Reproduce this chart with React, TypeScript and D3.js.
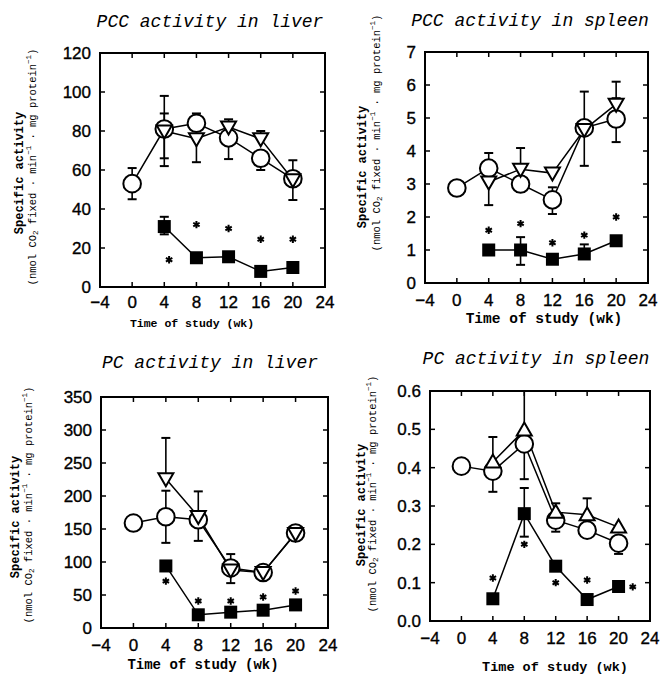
import React from "react";
import * as d3 from "d3";

const weeksAll = [0, 4, 8, 12, 16, 20];
const weeksTreated = [4, 8, 12, 16, 20];
const xTicks = [-4, 0, 4, 8, 12, 16, 20, 24];

// PCC liver
const pccLiverCircle = [53, 81, 84, 76.5, 66, 55.5];
const pccLiverCircleLo = [45, 62, null, 65.6, 60, 44.6];
const pccLiverCircleHi = [61, 98, 89, null, null, 65];
const pccLiverTri = [80, 76, 82, 76, 55];
const pccLiverTriLo = [66, 64, null, null, null];
const pccLiverTriHi = [89, null, 86, 80, null];
const pccLiverSq = [31, 15, 15.5, 8, 10];
const pccLiverSqLo = [27, null, null, null, null];
const pccLiverSqHi = [36, null, null, null, null];
const pccLiverStarX = [4.6, 8, 12, 16, 20];
const pccLiverStarY = [14, 32, 30, 24.5, 24.5];

// PCC spleen
const pccSpleenCircle = [2.88, 3.48, 3.0, 2.52, 4.7, 4.97];
const pccSpleenCircleLo = [null, null, 2.76, 2.09, 3.55, 4.27];
const pccSpleenCircleHi = [null, 3.94, null, 2.9, 5.8, 5.6];
const pccSpleenTri = [3.06, 3.45, 3.33, 4.65, 5.42];
const pccSpleenTriLo = [2.36, null, null, null, null];
const pccSpleenTriHi = [null, 4.09, null, null, 6.1];
const pccSpleenSq = [1.0, 1.0, 0.72, 0.88, 1.28];
const pccSpleenSqLo = [null, 0.55, null, null, null];
const pccSpleenSqHi = [null, 1.39, null, 1.17, null];
const pccSpleenStarX = [4, 8, 12, 16, 20];
const pccSpleenStarY = [1.6, 1.8, 1.22, 1.45, 2.0];

// PC liver
const pcLiverCircle = [159, 168.5, 164, 91, 84, 144];
const pcLiverCircleLo = [null, 129, 132, 68, null, null];
const pcLiverCircleHi = [null, 208, null, 112, null, null];
const pcLiverTri = [226, 169, 88, 84, 143];
const pcLiverTriLo = [null, null, null, null, null];
const pcLiverTriHi = [288, 207, null, null, null];
const pcLiverSq = [94, 20, 24, 27, 35];
const pcLiverSqLo = [null, null, null, null, null];
const pcLiverSqHi = [null, null, null, null, null];
const pcLiverStarX = [4, 8, 12, 16, 20];
const pcLiverStarY = [71, 41, 41, 47, 56];

// PC spleen
const pcSpleenCircle = [0.404, 0.391, 0.462, 0.263, 0.237, 0.203];
const pcSpleenCircleLo = [null, 0.337, 0.37, 0.233, null, 0.175];
const pcSpleenCircleHi = [null, null, null, null, null, null];
const pcSpleenTri = [0.415, 0.498, 0.284, 0.277, 0.245];
const pcSpleenTriLo = [null, null, null, null, null];
const pcSpleenTriHi = [0.48, 0.6, 0.307, 0.32, null];
const pcSpleenSq = [0.058, 0.28, 0.143, 0.056, 0.09];
const pcSpleenSqLo = [null, 0.22, null, null, null];
const pcSpleenSqHi = [null, 0.347, null, null, null];
const pcSpleenStarX = [4, 8, 12, 16, 21.8];
const pcSpleenStarY = [0.112, 0.2, 0.1, 0.107, 0.089];

const titles = ["PCC activity in liver", "PCC activity in spleen", "PC activity in liver", "PC activity in spleen"];
const xLabel = "Time of study (wk)";
const yLabel1 = "Specific activity";

const panels = [
  {
    x0: 100, x1: 325, y0: 53, y1: 287, yMax: 120, yStep: 20, fmt: "d",
    title: titles[0], titleX: 210, titleY: 27, xlabX: 192, xlabY: 327, xlabSize: 11.5, tickY: 308,
    yl1X: 20, yl1Y: 173, yl2X: 33, yl2Y: 167, triUp: false,
    circle: pccLiverCircle, circleLo: pccLiverCircleLo, circleHi: pccLiverCircleHi,
    tri: pccLiverTri, triLo: pccLiverTriLo, triHi: pccLiverTriHi,
    sq: pccLiverSq, sqLo: pccLiverSqLo, sqHi: pccLiverSqHi,
    starX: pccLiverStarX, starY: pccLiverStarY,
  },
  {
    x0: 425, x1: 648, y0: 52, y1: 283, yMax: 7, yStep: 1, fmt: "d",
    title: titles[1], titleX: 530, titleY: 26, xlabX: 544, xlabY: 323, xlabSize: 14.5, tickY: 306,
    yl1X: 363, yl1Y: 167, yl2X: 377, yl2Y: 133, triUp: false,
    circle: pccSpleenCircle, circleLo: pccSpleenCircleLo, circleHi: pccSpleenCircleHi,
    tri: pccSpleenTri, triLo: pccSpleenTriLo, triHi: pccSpleenTriHi,
    sq: pccSpleenSq, sqLo: pccSpleenSqLo, sqHi: pccSpleenSqHi,
    starX: pccSpleenStarX, starY: pccSpleenStarY,
  },
  {
    x0: 101, x1: 328, y0: 397, y1: 628, yMax: 350, yStep: 50, fmt: "d",
    title: titles[2], titleX: 210, titleY: 368, xlabX: 203, xlabY: 669, xlabSize: 14, tickY: 651,
    yl1X: 16, yl1Y: 517, yl2X: 29, yl2Y: 505, triUp: false,
    circle: pcLiverCircle, circleLo: pcLiverCircleLo, circleHi: pcLiverCircleHi,
    tri: pcLiverTri, triLo: pcLiverTriLo, triHi: pcLiverTriHi,
    sq: pcLiverSq, sqLo: pcLiverSqLo, sqHi: pcLiverSqHi,
    starX: pcLiverStarX, starY: pcLiverStarY,
  },
  {
    x0: 430, x1: 650, y0: 391, y1: 621, yMax: 0.6, yStep: 0.1, fmt: ".1f",
    title: titles[3], titleX: 536, titleY: 364, xlabX: 555, xlabY: 671, xlabSize: 13.5, tickY: 644,
    yl1X: 362, yl1Y: 505, yl2X: 373, yl2Y: 494, triUp: true,
    circle: pcSpleenCircle, circleLo: pcSpleenCircleLo, circleHi: pcSpleenCircleHi,
    tri: pcSpleenTri, triLo: pcSpleenTriLo, triHi: pcSpleenTriHi,
    sq: pcSpleenSq, sqLo: pcSpleenSqLo, sqHi: pcSpleenSqHi,
    starX: pcSpleenStarX, starY: pcSpleenStarY,
  },
];

const MONO = "'Liberation Mono', 'DejaVu Sans Mono', 'Courier New', monospace";
const SANS = "'Liberation Sans', Arial, Helvetica, sans-serif";

function ErrorBars({ xs, vs, los, his, x, y }: any) {
  const out: any[] = [];
  xs.forEach((xv: number, i: number) => {
    const cx = x(xv);
    [los[i], his[i]].forEach((e: any, j: number) => {
      if (e === null || e === undefined) return;
      out.push(
        <g key={i + "-" + j}>
          <line x1={cx} x2={cx} y1={y(vs[i])} y2={y(e)} stroke="#000" strokeWidth={1.6} />
          <line x1={cx - 4.5} x2={cx + 4.5} y1={y(e)} y2={y(e)} stroke="#000" strokeWidth={2} />
        </g>
      );
    });
  });
  return <g>{out}</g>;
}

function YLabel2({ x, y }: any) {
  return (
    <text transform={`translate(${x},${y}) rotate(-90)`} textAnchor="middle" dominantBaseline="central"
      fontFamily={MONO} fontSize={10.5} fill="#000">
      (nmol CO<tspan fontSize={7.5} dy={3}>2</tspan><tspan dy={-3}> fixed · min</tspan>
      <tspan fontSize={7.5} dy={-4}>−1</tspan><tspan dy={4}> · mg protein</tspan>
      <tspan fontSize={7.5} dy={-4}>−1</tspan><tspan dy={4}>)</tspan>
    </text>
  );
}

function Panel({ p }: any) {
  const x = d3.scaleLinear().domain([-4, 24]).range([p.x0, p.x1]);
  const y = d3.scaleLinear().domain([0, p.yMax]).range([p.y1, p.y0]);
  const yTicks = d3.range(0, p.yMax + p.yStep / 2, p.yStep);
  const fmt = d3.format(p.fmt);
  const line = d3.line<[number, number]>().x((d) => x(d[0])).y((d) => y(d[1]));
  const circPts: [number, number][] = weeksAll.map((w, i) => [w, p.circle[i]]);
  const triPts: [number, number][] = weeksTreated.map((w, i) => [w, p.tri[i]]);
  const sqPts: [number, number][] = weeksTreated.map((w, i) => [w, p.sq[i]]);
  const tk = 5;
  const triPath = p.triUp ? "M-7.5,5.5L7.5,5.5L0,-7.5Z" : "M-7.5,-5.5L7.5,-5.5L0,7.5Z";
  const star = d3.symbol().type(d3.symbolAsterisk).size(38)();
  return (
    <g>
      <text x={p.titleX} y={p.titleY} textAnchor="middle" fontFamily={MONO} fontStyle="italic" fontSize={18} fill="#000">
        {p.title}
      </text>
      {xTicks.map((t) => (
        <g key={"xt" + t}>
          <line x1={x(t)} x2={x(t)} y1={p.y1} y2={p.y1 - tk} stroke="#000" strokeWidth={1.5} />
          <line x1={x(t)} x2={x(t)} y1={p.y0} y2={p.y0 + tk} stroke="#000" strokeWidth={1.5} />
          <text x={x(t)} y={p.tickY} textAnchor="middle" fontFamily={SANS} fontSize={17} fill="#000"
            stroke="#000" strokeWidth={0.35}>
            {t < 0 ? "−" + Math.abs(t) : t}
          </text>
        </g>
      ))}
      {yTicks.map((t) => (
        <g key={"yt" + t}>
          <line x1={p.x0} x2={p.x0 + tk} y1={y(t)} y2={y(t)} stroke="#000" strokeWidth={1.5} />
          <line x1={p.x1} x2={p.x1 - tk} y1={y(t)} y2={y(t)} stroke="#000" strokeWidth={1.5} />
          <text x={p.x0 - 9} y={y(t)} dy="0.36em" textAnchor="end" fontFamily={SANS} fontSize={17} fill="#000"
            stroke="#000" strokeWidth={0.35}>
            {fmt(t)}
          </text>
        </g>
      ))}
      <rect x={p.x0} y={p.y0} width={p.x1 - p.x0} height={p.y1 - p.y0} fill="none" stroke="#000" strokeWidth={2} />
      <text x={p.xlabX} y={p.xlabY} textAnchor="middle" fontFamily={MONO} fontWeight="bold" fontSize={p.xlabSize} fill="#000">
        {xLabel}
      </text>
      <text transform={`translate(${p.yl1X},${p.yl1Y}) rotate(-90)`} textAnchor="middle" dominantBaseline="central"
        fontFamily={MONO} fontWeight="bold" fontSize={12} fill="#000">
        {yLabel1}
      </text>
      <YLabel2 x={p.yl2X} y={p.yl2Y} />
      <path d={line(circPts) || ""} fill="none" stroke="#000" strokeWidth={1.5} />
      <path d={line(triPts) || ""} fill="none" stroke="#000" strokeWidth={1.5} />
      <path d={line(sqPts) || ""} fill="none" stroke="#000" strokeWidth={1.5} />
      <ErrorBars xs={weeksAll} vs={p.circle} los={p.circleLo} his={p.circleHi} x={x} y={y} />
      <ErrorBars xs={weeksTreated} vs={p.tri} los={p.triLo} his={p.triHi} x={x} y={y} />
      <ErrorBars xs={weeksTreated} vs={p.sq} los={p.sqLo} his={p.sqHi} x={x} y={y} />
      {circPts.map((d, i) => (
        <circle key={"c" + i} cx={x(d[0])} cy={y(d[1])} r={8.8} fill="#fff" stroke="#000" strokeWidth={2} />
      ))}
      {triPts.map((d, i) => (
        <path key={"t" + i} d={triPath} transform={`translate(${x(d[0])},${y(d[1])})`} fill="#fff" stroke="#000" strokeWidth={2} />
      ))}
      {sqPts.map((d, i) => (
        <rect key={"s" + i} x={x(d[0]) - 6.5} y={y(d[1]) - 6.5} width={13} height={13} fill="#000" />
      ))}
      {p.starX.map((sx: number, i: number) => (
        <path key={"a" + i} d={star || ""} transform={`translate(${x(sx)},${y(p.starY[i])})`} fill="none" stroke="#000" strokeWidth={2} />
      ))}
    </g>
  );
}

export default function App() {
  return (
    <svg width={661} height={674} style={{ position: "absolute", left: 0, top: 0, background: "#fff" }}>
      <rect x={0} y={0} width={661} height={674} fill="#fff" />
      {panels.map((p, i) => (
        <Panel key={i} p={p} />
      ))}
    </svg>
  );
}
